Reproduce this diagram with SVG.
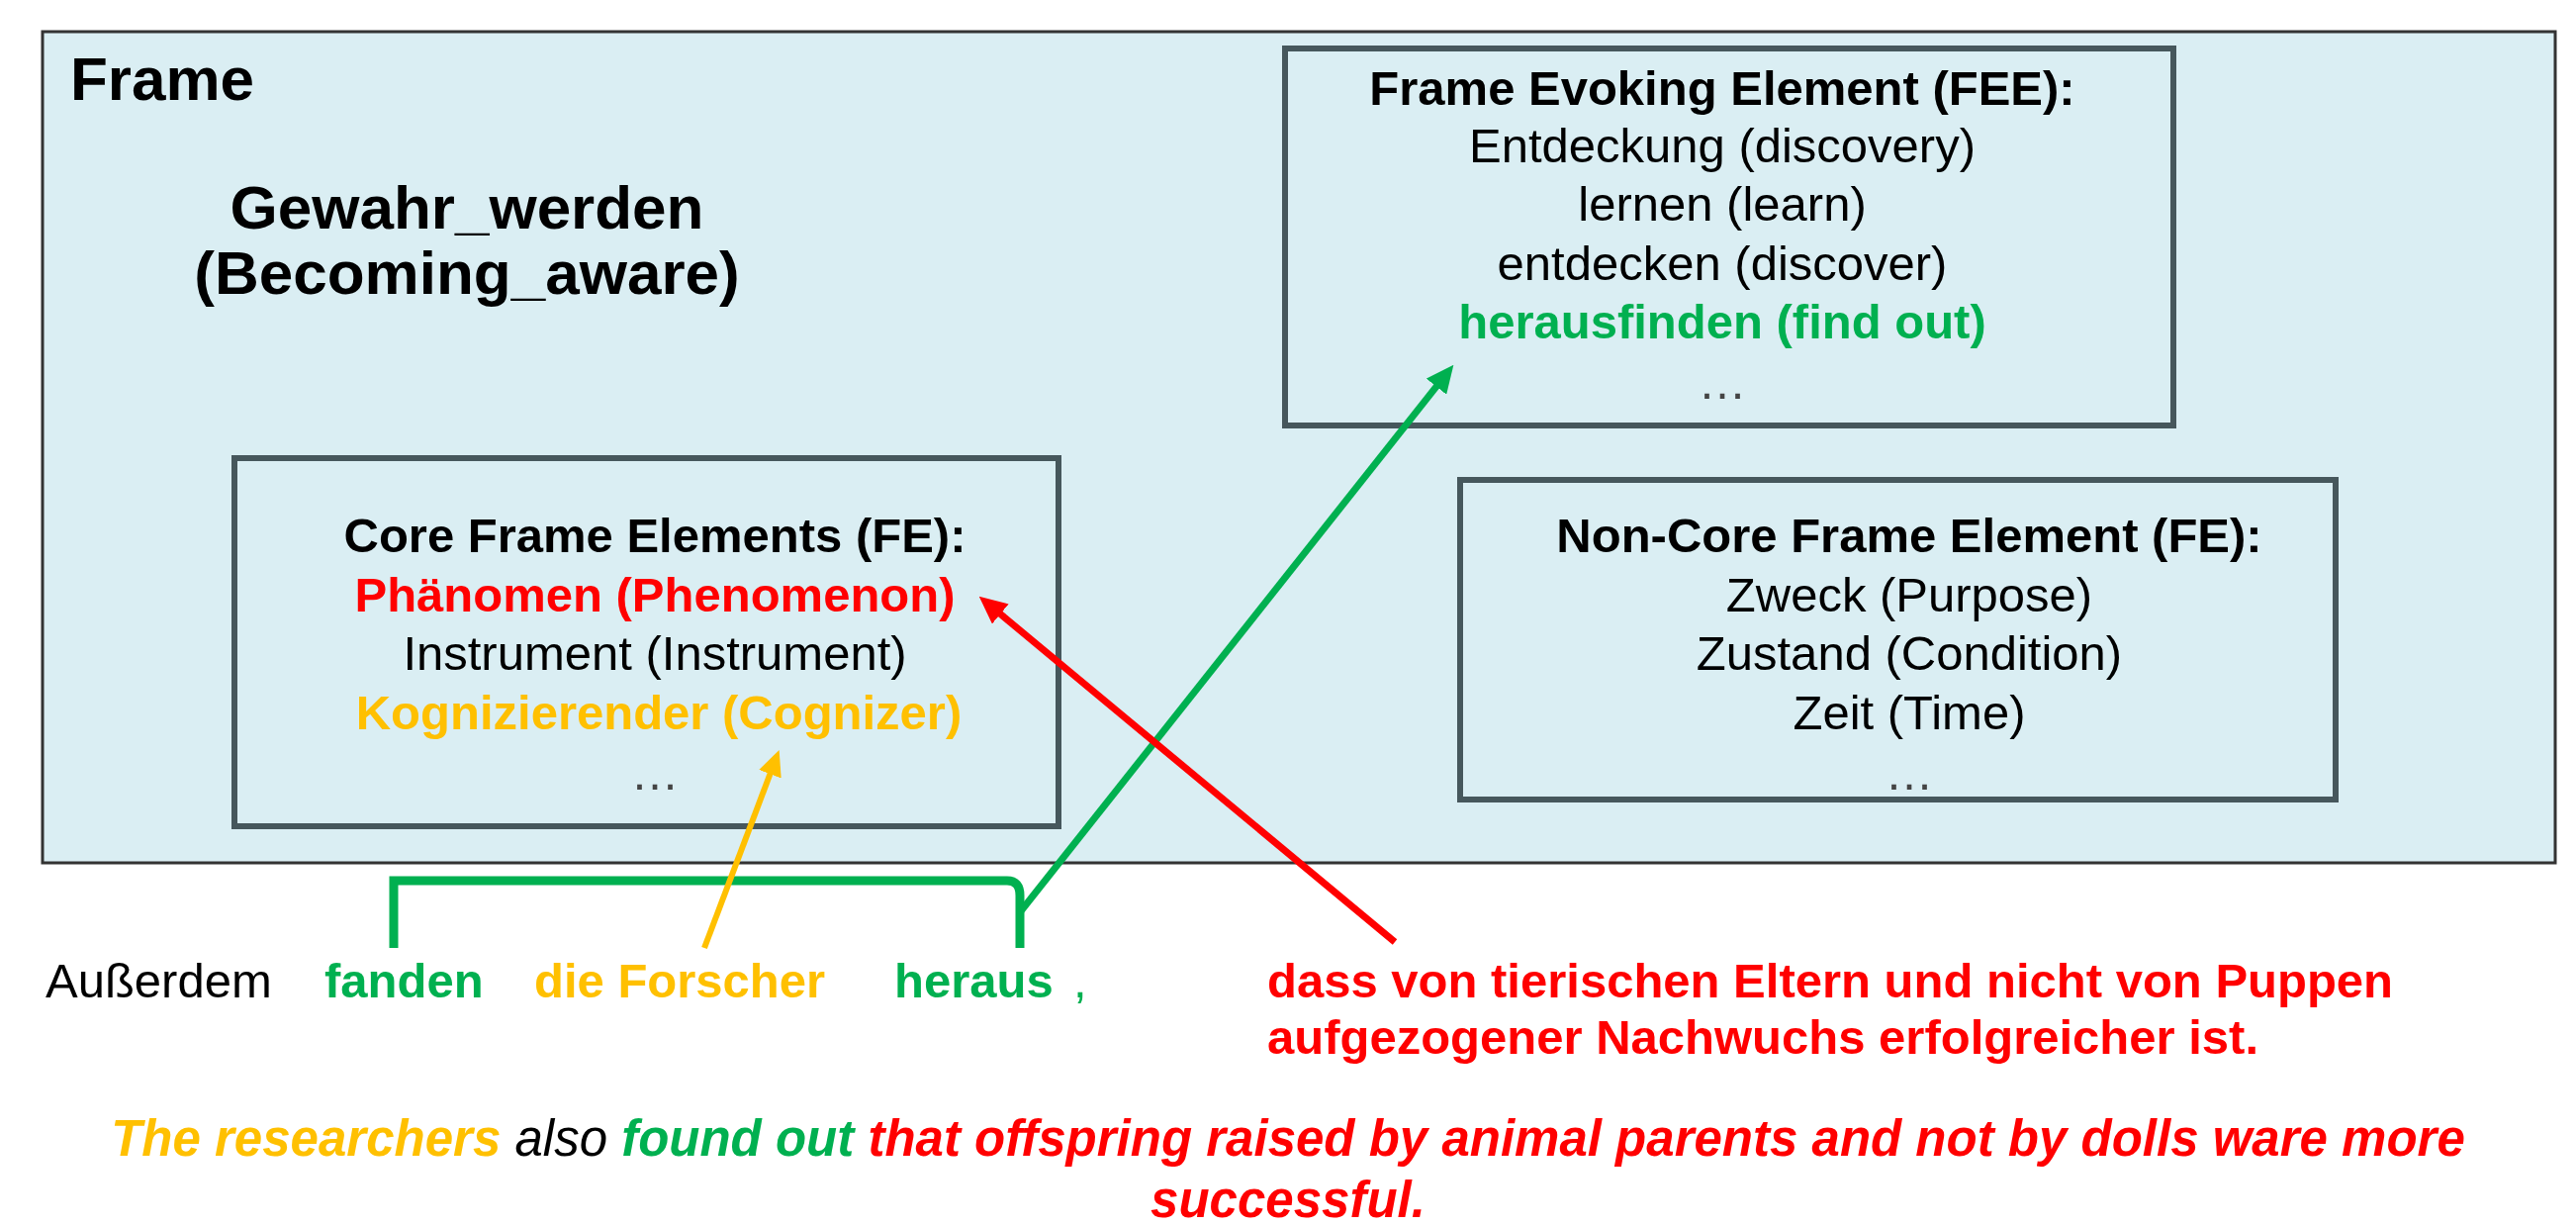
<svg xmlns="http://www.w3.org/2000/svg" width="2604" height="1239" viewBox="0 0 2604 1239">
  <defs>
    <style>
      text { font-family: "Liberation Sans", Arial, sans-serif; fill: #000; }
      .b { font-weight: bold; }
      .t { font-size: 49px; }
      .c { text-anchor: middle; }
      .box { fill: none; stroke: #46575c; stroke-width: 6; }
      .dots { fill: #444; }
      .g { fill: #00B050; }
      .y { fill: #FFC000; }
      .r { fill: #FF0000; }
      .link { fill: none; stroke-linecap: butt; }
    </style>
    <marker id="head-g" viewBox="0 0 28 26" refX="1" refY="13" markerWidth="28" markerHeight="26" markerUnits="userSpaceOnUse" orient="auto">
      <path d="M0,0 L28,13 L0,26 z" fill="#00B050"/>
    </marker>
    <marker id="head-y" viewBox="0 0 26 24" refX="1" refY="12" markerWidth="26" markerHeight="24" markerUnits="userSpaceOnUse" orient="auto">
      <path d="M0,0 L26,12 L0,24 z" fill="#FFC000"/>
    </marker>
    <marker id="head-r" viewBox="0 0 28 26" refX="1" refY="13" markerWidth="28" markerHeight="26" markerUnits="userSpaceOnUse" orient="auto">
      <path d="M0,0 L28,13 L0,26 z" fill="#FF0000"/>
    </marker>
  </defs>

  <rect width="2604" height="1239" fill="#ffffff"/>

  <!-- outer frame container -->
  <g id="frame">
    <rect x="43" y="32" width="2540" height="840" fill="#DAEEF3" stroke="#333333" stroke-width="3"/>
    <text class="b" x="71" y="101" font-size="62">Frame</text>
    <text class="b c" x="472" y="231" font-size="62">Gewahr_werden</text>
    <text class="b c" x="472" y="297" font-size="62">(Becoming_aware)</text>
  </g>

  <!-- frame evoking elements -->
  <g id="fee">
    <rect class="box" x="1299" y="49" width="898" height="381"/>
    <text class="t b c" x="1741" y="106">Frame Evoking Element (FEE):</text>
    <text class="t c" x="1741" y="164">Entdeckung (discovery)</text>
    <text class="t c" x="1741" y="223">lernen (learn)</text>
    <text class="t c" x="1741" y="283">entdecken (discover)</text>
    <text class="t b c g" x="1741" y="342">herausfinden (find out)</text>
    <text class="t c dots" x="1741" y="403">…</text>
  </g>

  <!-- core frame elements -->
  <g id="core-fe">
    <rect class="box" x="237" y="463" width="833" height="372"/>
    <text class="t b c" x="662" y="558">Core Frame Elements (FE):</text>
    <text class="t b c r" x="662" y="618">Phänomen (Phenomenon)</text>
    <text class="t c" x="662" y="677">Instrument (Instrument)</text>
    <text class="t b c y" x="666" y="737">Kognizierender (Cognizer)</text>
    <text class="t c dots" x="662" y="798">…</text>
  </g>

  <!-- non-core frame elements -->
  <g id="noncore-fe">
    <rect class="box" x="1476" y="485" width="885" height="323"/>
    <text class="t b c" x="1930" y="558">Non-Core Frame Element (FE):</text>
    <text class="t c" x="1930" y="618">Zweck (Purpose)</text>
    <text class="t c" x="1930" y="677">Zustand (Condition)</text>
    <text class="t c" x="1930" y="737">Zeit (Time)</text>
    <text class="t c dots" x="1930" y="798">…</text>
  </g>

  <!-- German example sentence -->
  <g id="sentence-de">
    <text class="t" x="46" y="1008">Außerdem</text>
    <text class="t b g" x="328" y="1008">fanden</text>
    <text class="t b y" x="540" y="1008">die Forscher</text>
    <text class="t b g" x="904" y="1008">heraus</text>
    <text class="t g" x="1085" y="1008">,</text>
    <text class="t b r" x="1281" y="1008">dass von tierischen Eltern und nicht von Puppen</text>
    <text class="t b r" x="1281" y="1065">aufgezogener Nachwuchs erfolgreicher ist.</text>
  </g>

  <!-- English translation -->
  <g id="sentence-en">
    <text class="c" x="1302" y="1168" font-size="51" font-style="italic"><tspan class="b y">The researchers</tspan> <tspan>also</tspan> <tspan class="b g">found out</tspan> <tspan class="b r">that offspring raised by animal parents and not by dolls ware more</tspan></text>
    <text class="b c r" x="1302" y="1230" font-size="51" font-style="italic">successful.</text>
  </g>

  <!-- connectors -->
  <g id="connectors">
    <path class="link" d="M398,958 V890 H1018 Q1031,890 1031,905 V958" stroke="#00B050" stroke-width="9"/>
    <line class="link" x1="1031" y1="922" x2="1452.6" y2="389.9" stroke="#00B050" stroke-width="7" marker-end="url(#head-g)"/>
    <line class="link" x1="712" y1="958" x2="778.8" y2="781.3" stroke="#FFC000" stroke-width="6" marker-end="url(#head-y)"/>
    <line class="link" x1="1410" y1="952" x2="1010.5" y2="619.9" stroke="#FF0000" stroke-width="7" marker-end="url(#head-r)"/>
  </g>
</svg>
